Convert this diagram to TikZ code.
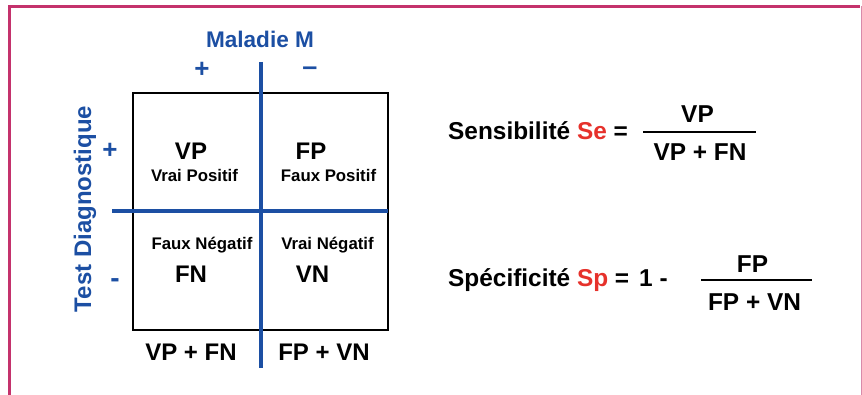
\documentclass[tikz,border=0pt]{standalone}
\usepackage{fontspec}
\setmainfont{Liberation Sans}
\definecolor{tblue}{HTML}{1C4FA3}
\definecolor{tred}{HTML}{E6312B}
\definecolor{frame}{HTML}{C4326C}
\definecolor{framelight}{HTML}{D98AAA}
\tikzset{
  txt/.style={inner sep=0pt, font=\fontsize{#1}{#1}\selectfont\bfseries},
  txt/.default=24,
  bluetxt/.style={txt=#1, text=tblue},
  bluetxt/.default=24,
  cellbox/.style={draw=black, line width=2.4pt},
  axisline/.style={draw=tblue, line width=3.2pt},
  fracbar/.style={draw=black, line width=2.4pt},
}
\begin{document}
\begin{tikzpicture}[x=1pt,y=-1pt]
\useasboundingbox (0,0) rectangle (862,395);

% outer frame (open at the bottom)
\draw[frame, line width=2.4pt] (9.5,395) -- (9.5,6.5) -- (860,6.5);
\draw[framelight, line width=1.2pt] (861.3,6) -- (861.3,395);

% contingency table
\coordinate (tl) at (133,93);
\coordinate (br) at (388,330);
\draw[cellbox] (tl) rectangle (br);
\coordinate (vtop) at (261,62);
\coordinate (vbot) at (261,368);
\coordinate (hleft) at (112,211);
\coordinate (hright) at (388,211);
\draw[axisline] (vtop) -- (vbot);
\draw[axisline] (hleft) -- (hright);

% axis titles and signs
\node[bluetxt=22.6, anchor=base] (maladie) at (260,48) {Maladie M};
\node[bluetxt=26] (mplus) at (202,70) {+};
\node[bluetxt=27] (mminus) at (310,71) {–};
\node[bluetxt=24, rotate=90, anchor=base] (test) at (91,209) {Test Diagnostique};
\node[bluetxt=26] (tplus) at (110,151) {+};
\node[bluetxt=28] (tminus) at (115,283) {-};

% cells
\node[txt=24, anchor=base] (vp) at (191,160) {VP};
\node[txt=16.8, anchor=base] (vpl) at (194.5,182) {Vrai Positif};
\node[txt=24, anchor=base] (fp) at (311,160) {FP};
\node[txt=16.8, anchor=base] (fpl) at (328.5,182) {Faux Positif};
\node[txt=16.8, anchor=base] (fnl) at (202,250) {Faux Négatif};
\node[txt=24, anchor=base] (fn) at (191,283) {FN};
\node[txt=16.8, anchor=base] (vnl) at (327.5,250) {Vrai Négatif};
\node[txt=24, anchor=base] (vn) at (312.5,283) {VN};

% column totals
\node[txt=24, anchor=base] (col1) at (191,360) {VP + FN};
\node[txt=24, anchor=base] (col2) at (324,360) {FP + VN};

% sensitivity
\node[txt=24.4, anchor=base west] (se) at (448,140) {Sensibilité \textcolor{tred}{Se} =};
\coordinate (sea) at (643,132);
\coordinate (seb) at (756,132);
\draw[fracbar] (sea) -- (seb);
\node[txt=24.4, anchor=base] (senum) at (697.5,123) {VP};
\node[txt=24.4, anchor=base] (seden) at (700,161) {VP + FN};

% specificity
\node[txt=24.4, anchor=base west] (sp) at (448,287) {Spécificité \textcolor{tred}{Sp} =};
\node[txt=24.4, anchor=base west] (one) at (639,287) {1 -};
\coordinate (spa) at (701,280);
\coordinate (spb) at (812,280);
\draw[fracbar] (spa) -- (spb);
\node[txt=24.4, anchor=base] (spnum) at (752.5,273) {FP};
\node[txt=24.4, anchor=base] (spden) at (754.5,310) {FP + VN};
\end{tikzpicture}
\end{document}
